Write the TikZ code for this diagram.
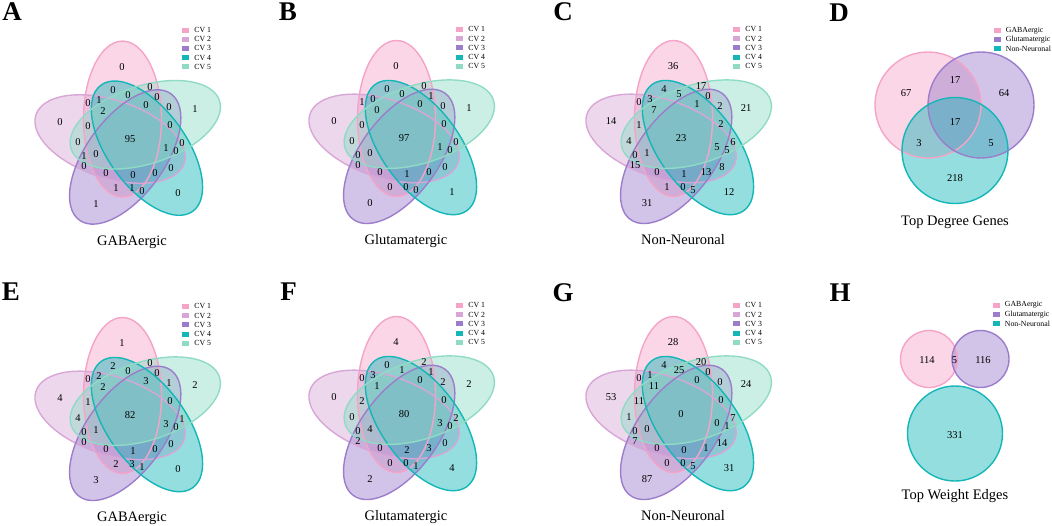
\documentclass[tikz,border=0pt]{standalone}
\usepackage{fontspec}
\setmainfont{Liberation Serif}
\usetikzlibrary{positioning}

\definecolor{cvone}{HTML}{F5A3C7}
\definecolor{cvtwo}{HTML}{D8A6D6}
\definecolor{cvthree}{HTML}{9B7DCB}
\definecolor{cvfour}{HTML}{14B6B8}
\definecolor{cvfive}{HTML}{8FDBC5}

\tikzset{
	cvline/.style={line width=1.4pt},
	cvfill/.style={fill opacity=0.45},
	cvnum/.style={font=\fontsize{10.5}{11}\selectfont, inner sep=0pt},
	paneltag/.style={font=\fontsize{27}{27}\selectfont\bfseries, anchor=base, inner sep=0pt},
	paneltitle/.style={font=\fontsize{14.5}{15}\selectfont, anchor=base, inner sep=0pt},
	legbox/.style={minimum width=7pt, minimum height=5pt, inner sep=0pt},
	legtext/.style={font=\fontsize{7.8}{8}\selectfont, inner sep=0pt, right=5pt of #1},
}

% five CV ellipses, legend, counts and title around a centre
\newcommand{\cvvenn}[5]{%
	\begin{scope}[shift={(#2,#3)}]
		\foreach \i/\c in {0/cvone,1/cvtwo,2/cvthree,3/cvfour,4/cvfive}
			\fill[\c, cvfill, rotate=72*\i] (-7.5,-18.5) ellipse [x radius=39, y radius=78];
		\foreach \i/\c in {0/cvone,1/cvtwo,2/cvthree,3/cvfour,4/cvfive}
			\draw[\c, cvline, rotate=72*\i] (-7.5,-18.5) ellipse [x radius=39, y radius=78];
		
		\foreach \px/\py [count=\reg] in {-8/-71,-17/-48,-2/-43,20/-51,27/-41,-42/-35,-31/-38,-27/-27,16/-33,39/-31,65/-29,-70/-16,-42/-12,40/-13,0/1,-52/4,52/5,36/10,46/13,-46/18,-34/16,-46/28,41/30,-24/35,3/37,25/35,-14/50,2/50,12/53,48/55,-34/66}{
			\pgfmathtruncatemacro\v{{#5}[\reg-1]}
			\node[cvnum] (#1-\reg) at (\px,\py) {\v};
		}
		
		\foreach \c [count=\k] in {cvone,cvtwo,cvthree,cvfour,cvfive}{
			\node[legbox, fill=\c] (#1-key\k) at (55.5,-116.8+9.2*\k) {};
			\node[legtext=#1-key\k] (#1-lab\k) {CV \k};
		}
		
		\node[paneltitle] (#1-title) at (2,107.5) {#4};
	\end{scope}}

\begin{document}
\begin{tikzpicture}[x=1pt,y=-1pt]
	\useasboundingbox (0,0) rectangle (1052,525);
	
	\cvvenn{A}{130}{137.6}{GABAergic}{0,0,0,0,0,0,1,2,0,0,1,0,0,0,95,0,0,1,0,1,0,0,0,0,0,0,1,1,0,0,1}
	\cvvenn{B}{404}{137}{Glutamatergic}{0,0,0,0,1,1,0,0,0,0,1,0,0,0,97,0,0,1,0,0,0,0,0,0,1,0,0,0,0,1,0}
	\cvvenn{C}{681}{137}{Non-Neuronal}{36,4,5,17,0,0,3,7,1,2,21,14,1,2,23,4,6,5,5,0,1,15,8,0,1,13,1,0,5,12,31}
	\cvvenn{E}{130}{414}{GABAergic}{1,2,0,0,0,0,2,2,3,1,2,4,1,0,82,4,1,3,0,0,1,0,0,0,1,0,2,3,1,0,3}
	\cvvenn{F}{404}{413}{Glutamatergic}{4,0,1,2,1,0,3,1,0,2,2,0,2,0,80,0,2,3,0,0,4,2,0,0,2,3,0,0,1,4,2}
	\cvvenn{G}{681}{413}{Non-Neuronal}{28,4,25,20,0,0,1,11,0,0,24,53,11,0,0,1,7,0,1,0,0,7,14,0,0,1,0,0,5,31,87}
	
	% D: top degree genes
	\foreach \c/\x/\y in {cvone/928/105,cvthree/981/105,cvfour/955/150.5}
		\fill[\c, cvfill] (\x,\y) circle (53);
	\foreach \c/\x/\y in {cvone/928/105,cvthree/981/105,cvfour/955/150.5}
		\draw[\c, cvline] (\x,\y) circle (53);
	\node[cvnum] (D-gaba) at (906,93) {67};
	\node[cvnum] (D-gagl) at (955,80) {17};
	\node[cvnum] (D-glut) at (1004,93) {64};
	\node[cvnum] (D-all) at (955,122) {17};
	\node[cvnum] (D-gano) at (919,143) {3};
	\node[cvnum] (D-glno) at (991,143) {5};
	\node[cvnum] (D-non) at (955,178) {218};
	\foreach \c/\t [count=\k] in {cvone/GABAergic,cvthree/Glutamatergic,cvfour/Non-Neuronal}{
		\node[legbox, fill=\c] (D-key\k) at (997,21.7+9*\k) {};
		\node[legtext=D-key\k] (D-lab\k) {\t};
	}
	\node[paneltitle] (D-title) at (955,225) {Top Degree Genes};
	
	% H: top weight edges
	\foreach \c/\x/\y/\rr in {cvone/929/359/28.5,cvthree/980.5/359/28.5,cvfour/955/433.5/47.5}
		\fill[\c, cvfill] (\x,\y) circle (\rr);
	\foreach \c/\x/\y/\rr in {cvone/929/359/28.5,cvthree/980.5/359/28.5,cvfour/955/433.5/47.5}
		\draw[\c, cvline] (\x,\y) circle (\rr);
	\node[cvnum] (H-gaba) at (927,360) {114};
	\node[cvnum] (H-gagl) at (954.5,360) {5};
	\node[cvnum] (H-glut) at (983,360) {116};
	\node[cvnum] (H-non) at (955,435) {331};
	\foreach \c/\t [count=\k] in {cvone/GABAergic,cvthree/Glutamatergic,cvfour/Non-Neuronal}{
		\node[legbox, fill=\c] (H-key\k) at (996,296+9.2*\k) {};
		\node[legtext=H-key\k] (H-lab\k) {\t};
	}
	\node[paneltitle] (H-title) at (955,499) {Top Weight Edges};
	
	% panel letters
	\foreach \t/\x/\y in {A/12/20.7,B/288/20.7,C/563/20.7,D/839/21.7,E/11/300.3,F/288.5/300.3,G/563/301,H/840/301}
		\node[paneltag] (tag-\t) at (\x,\y) {\t};
\end{tikzpicture}
\end{document}
